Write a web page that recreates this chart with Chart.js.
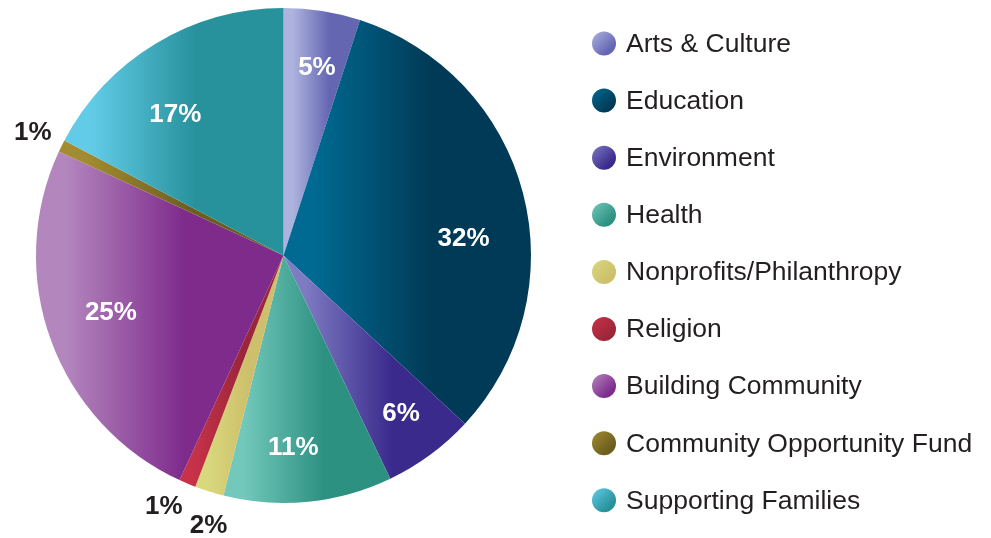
<!DOCTYPE html>
<html>
<head>
<meta charset="utf-8">
<script src="https://cdn.jsdelivr.net/npm/chart.js@4.4.0/dist/chart.umd.min.js"></script>
<style>
  html, body { margin: 0; padding: 0; background: #fff; }
  #wrap { width: 991px; height: 538px; position: relative; }
</style>
</head>
<body>
<div id="wrap"><canvas id="pie"></canvas></div>
<script>
// Data (percent of total grants)
const categories = ['Arts & Culture', 'Education', 'Environment', 'Health', 'Nonprofits/Philanthropy',
  'Religion', 'Building Community', 'Community Opportunity Fund', 'Supporting Families'];
const shares = [5.0, 31.9, 6.0, 11.0, 1.9, 1.1, 25.0, 0.8, 17.3];

// Colours: each slice fades from a light tone (left) to a dark tone (right)
const lightColors = ['#adb3de', '#006a92', '#7d7bc2', '#72c8bb', '#d8d97c', '#c83249', '#b386bd', '#a28b30', '#62cce8'];
const darkColors  = ['#6466b2', '#013a56', '#3a2a8c', '#2d9181', '#cebf6c', '#9c2639', '#7e2b8c', '#6c5d20', '#27919c'];

const FONT = '"Liberation Sans", Arial, Helvetica, sans-serif';

// Horizontal gradient spanning the slice's own x-extent
function sliceGradient(c) {
  const chart = c.chart;
  const area = chart.chartArea;
  const i = c.dataIndex;
  if (!area || i === undefined) return darkColors[i] || '#999';
  const cx = (area.left + area.right) / 2;
  const r = Math.min(area.right - area.left, area.bottom - area.top) / 2;
  const total = shares.reduce((a, b) => a + b, 0);
  let before = 0;
  for (let k = 0; k < i; k++) before += shares[k];
  const a0 = before / total * 2 * Math.PI - Math.PI / 2;
  const a1 = (before + shares[i]) / total * 2 * Math.PI - Math.PI / 2;
  let minX = cx, maxX = cx;
  for (let s = 0; s <= 40; s++) {
    const x = cx + r * Math.cos(a0 + (a1 - a0) * s / 40);
    minX = Math.min(minX, x);
    maxX = Math.max(maxX, x);
  }
  const g = chart.ctx.createLinearGradient(minX, 0, maxX + 0.01, 0);
  g.addColorStop(0, lightColors[i]);
  g.addColorStop(0.12, lightColors[i]);
  g.addColorStop(0.6, darkColors[i]);
  g.addColorStop(1, darkColors[i]);
  return g;
}

// Percent labels: white inside big slices, dark outside small ones
const sliceLabels = {
  id: 'sliceLabels',
  afterDatasetsDraw(chart, args, opts) {
    const ctx = chart.ctx;
    const meta = chart.getDatasetMeta(0);
    ctx.save();
    ctx.font = 'bold 26px ' + FONT;
    ctx.textAlign = 'center';
    ctx.textBaseline = 'middle';
    meta.data.forEach((arc, i) => {
      const p = arc.getProps(['x', 'y', 'startAngle', 'endAngle', 'outerRadius'], true);
      const mid = (p.startAngle + p.endAngle) / 2;
      const outside = shares[i] < 3;
      const rr = p.outerRadius * (outside ? 1.13 : 0.76);
      const n = opts.nudge[i] || [0, 0];
      ctx.fillStyle = outside ? '#231f20' : '#ffffff';
      ctx.fillText(Math.round(shares[i]) + '%', p.x + rr * Math.cos(mid) + n[0], p.y + rr * Math.sin(mid) + n[1]);
    });
    ctx.restore();
  }
};

// Legend on the right with shaded round markers
const sideLegend = {
  id: 'sideLegend',
  afterDraw(chart, args, opts) {
    const ctx = chart.ctx;
    ctx.save();
    ctx.font = '26.5px ' + FONT;
    ctx.textAlign = 'left';
    ctx.textBaseline = 'middle';
    categories.forEach((name, i) => {
      const y = opts.top + i * opts.step;
      const x = opts.x, r = opts.r;
      const g = ctx.createLinearGradient(x - r, y - r, x + r, y + r);
      g.addColorStop(0, lightColors[i]);
      g.addColorStop(0.75, darkColors[i]);
      ctx.fillStyle = g;
      ctx.beginPath();
      ctx.arc(x, y, r, 0, 2 * Math.PI);
      ctx.fill();
      ctx.fillStyle = '#231f20';
      ctx.fillText(name, opts.textX, y + 1);
    });
    ctx.restore();
  }
};

new Chart(document.getElementById('pie'), {
  type: 'pie',
  data: {
    labels: categories,
    datasets: [{
      data: shares,
      backgroundColor: sliceGradient,
      borderWidth: 0
    }]
  },
  options: {
    responsive: true,
    maintainAspectRatio: false,
    animation: false,
    layout: { padding: { left: 36, top: 8, right: 460, bottom: 35 } },
    plugins: {
      legend: { display: false },
      tooltip: { enabled: false },
      sliceLabels: {
        nudge: { 0: [4, -2], 1: [-2, 31], 2: [6, 7], 3: [-9, 5], 4: [9, 4], 5: [-11, -6], 6: [4, -7], 7: [0, 1], 8: [-11, 20] }
      },
      sideLegend: { x: 604, r: 12, textX: 626, top: 43.5, step: 57.1 }
    }
  },
  plugins: [sliceLabels, sideLegend]
});
</script>
</body>
</html>
